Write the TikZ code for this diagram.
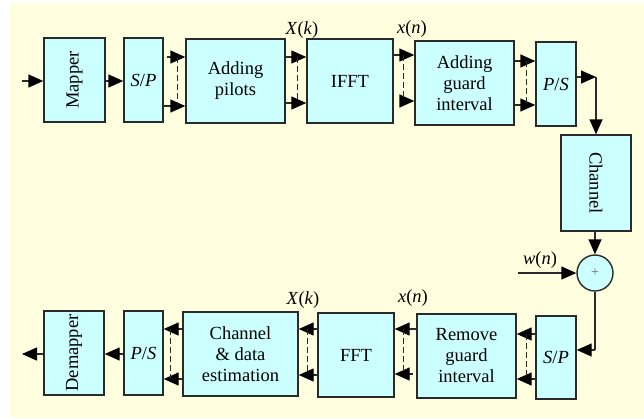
\documentclass[tikz,border=0pt]{standalone}
\usepackage{fontspec}
\setmainfont{Liberation Serif}
\newfontfamily\tms{Liberation Serif}
\usetikzlibrary{arrows.meta,calc}
\definecolor{bgyel}{HTML}{FFFFE0}
\definecolor{boxcy}{HTML}{CCFFFF}
\definecolor{ln}{HTML}{2A2A2A}
\begin{document}
\begin{tikzpicture}[x=1pt,y=-1pt,
  blk/.style={draw=ln,fill=boxcy,line width=1.4pt,inner sep=0pt,align=center,
    font=\tms\fontsize{18.5}{21}\selectfont},
  arr/.style={draw=ln,line width=1.4pt,-{Triangle[length=15pt,width=13pt,fill=black,color=black]}},
  ln/.style={draw=ln,line width=1.4pt},
  dsh/.style={draw=ln,line width=0.9pt,dash pattern=on 6pt off 3pt},
  lbl/.style={font=\tms\fontsize{18.5}{21}\selectfont,inner sep=0pt}]
\useasboundingbox (0,0) rectangle (644,418);
\fill[bgyel] (10,3) rectangle (644,418);
% top row
\node[blk,minimum width=61,minimum height=84] (mapper) at (74.5,80) {\rotatebox{90}{Mapper}};
\node[blk,minimum width=39,minimum height=84] (sp1) at (143.5,80) {\textit{S}/\textit{P}};
\node[blk,minimum width=99,minimum height=84] (pilots) at (235.5,81) {Adding\\pilots};
\node[blk,minimum width=86,minimum height=84] (ifft) at (350,81) {IFFT};
\node[blk,minimum width=99,minimum height=84] (agi) at (464.5,83) {Adding\\guard\\interval};
\node[blk,minimum width=40,minimum height=84] (ps1) at (556,84) {\textit{P}/\textit{S}};
\node[blk,minimum width=70,minimum height=96] (channel) at (596,183) {\rotatebox{-90}{Channel}};
\node[draw=ln,fill=boxcy,line width=1.4pt,circle,minimum size=36,inner sep=0pt,
  font=\tms\fontsize{14}{14}\selectfont,text=ln!70] (plus) at (595,273) {+};
% bottom row
\node[blk,minimum width=40,minimum height=83] (sp2) at (556,357.5) {\textit{S}/\textit{P}};
\node[blk,minimum width=99,minimum height=84] (rgi) at (466.5,356) {Remove\\guard\\interval};
\node[blk,minimum width=76,minimum height=84] (fft) at (356,355) {FFT};
\node[blk,minimum width=115,minimum height=84] (cde) at (240.5,354) {Channel\\\&~data\\estimation};
\node[blk,minimum width=39,minimum height=84] (ps2) at (143.5,353) {\textit{P}/\textit{S}};
\node[blk,minimum width=60,minimum height=84] (demapper) at (74,353) {\rotatebox{90}{Demapper}};
% labels
\node[lbl] (lx1) at (302,30) {\textit{X}(\textit{k})};
\node[lbl] (lx2) at (412,29) {\textit{x}(\textit{n})};
\node[lbl] (lx3) at (303,300) {\textit{X}(\textit{k})};
\node[lbl] (lx4) at (413,298) {\textit{x}(\textit{n})};
\node[lbl] (lw) at (540,260) {\textit{w}(\textit{n})};
% coordinates
\coordinate (in) at (22,81);
\coordinate (out) at (22,354);
\coordinate (wn) at (518,273);
\coordinate (c1) at (596,77);
\coordinate (c2) at (595,350);
% top arrows
\draw[arr] (in) -- (mapper.west|-in);
\draw[arr] (mapper.east|-in) -- (sp1.west|-in);
\draw[arr] ([xshift=3]sp1.east|-0,57) -- (pilots.west|-0,57);
\draw[arr] (sp1.east|-0,106) -- (pilots.west|-0,106);
\draw[dsh] (177,57) -- (177,106);
\draw[arr] (pilots.east|-0,57) -- (ifft.west|-0,57);
\draw[arr] (pilots.east|-0,103) -- (ifft.west|-0,103);
\draw[dsh] (297,57) -- (297,103);
\draw[arr] (ifft.east|-0,55) -- (agi.west|-0,55);
\draw[arr] ([xshift=7]ifft.east|-0,101) -- (agi.west|-0,101);
\draw[dsh] (403,55) -- (403,101);
\draw[arr] (agi.east|-0,61) -- (ps1.west|-0,61);
\draw[arr] (agi.east|-0,105) -- (ps1.west|-0,105);
\draw[dsh] (526,61) -- (526,105);
\draw[arr] (ps1.east|-c1) -- (c1);
\draw[arr] (c1) -- (channel.north);
\draw[arr] (channel.south-|plus) -- (plus.north);
\draw[arr] (wn) -- (plus.west);
\draw[ln] (plus.south) -- (c2);
\draw[arr] (c2) -- (sp2.east|-c2);
% bottom arrows
\draw[arr] (sp2.west|-0,334) -- (rgi.east|-0,334);
\draw[arr] (sp2.west|-0,379) -- (rgi.east|-0,379);
\draw[dsh] (526,334) -- (526,379);
\draw[arr] (rgi.west|-0,329) -- (fft.east|-0,329);
\draw[arr] ([xshift=-3]rgi.west|-0,374) -- (fft.east|-0,374);
\draw[dsh] (403,329) -- (403,374);
\draw[arr] (fft.west|-0,329) -- (cde.east|-0,329);
\draw[arr] (fft.west|-0,375) -- (cde.east|-0,375);
\draw[dsh] (307,329) -- (307,375);
\draw[arr] (cde.west|-0,329) -- (ps2.east|-0,329);
\draw[arr] (cde.west|-0,379) -- (ps2.east|-0,379);
\draw[dsh] (170,329) -- (170,379);
\draw[arr] (ps2.west|-out) -- (demapper.east|-out);
\draw[arr] (demapper.west|-out) -- (out);
\end{tikzpicture}
\end{document}
